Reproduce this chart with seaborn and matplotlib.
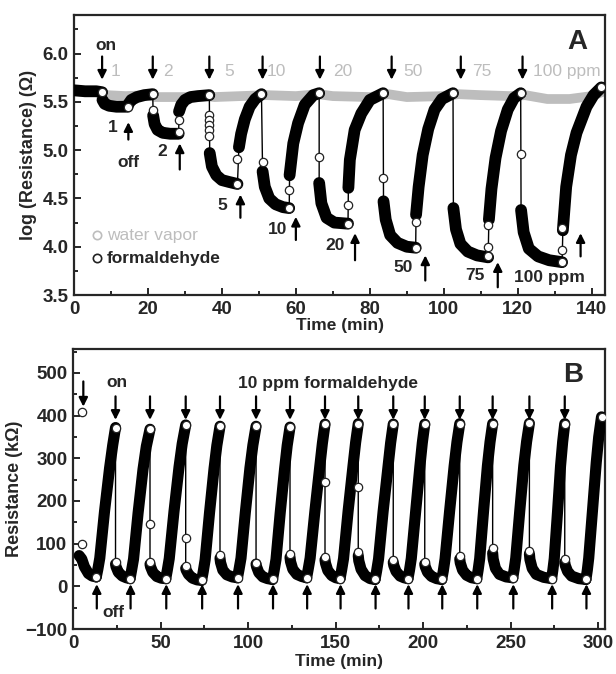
import matplotlib
matplotlib.use("Agg")
import matplotlib.pyplot as plt
import seaborn as sns
from matplotlib.ticker import MultipleLocator

# ---------------- Panel A data (log resistance vs time) ----------------
A_seg_t = [
    [0, 3, 6, 7.6],
    [7.7, 8.3, 9.5, 11.5, 14.5],
    [14.6, 15.5, 17, 19, 21.3],
    [21.4, 21.8, 22.6, 24, 26, 28.3],
    [28.4, 29, 30, 31.5, 33.5, 36.6],
    [36.7, 37.3, 38.5, 40, 42, 44.2],
    [44.6, 45.2, 46.2, 47.5, 49, 50.7],
    [51.0, 51.6, 52.8, 54.5, 56.5, 58.2],
    [58.3, 59.3, 60.6, 62.4, 64.7, 66.3],
    [66.3, 66.9, 68.3, 70.4, 73.7, 74.1],
    [74.2, 74.6, 75.9, 77.7, 80, 83.6],
    [83.7, 84.3, 85.5, 87.5, 90, 92.4],
    [92.5, 93.2, 94.3, 95.8, 97.5, 99.5, 102.5],
    [102.6, 103.3, 104.5, 106.5, 109, 112],
    [112.2, 112.9, 114, 115.5, 117.3, 119, 120.8],
    [120.9, 121.6, 123, 125.5, 128.5, 132],
    [132.2, 133.1, 134.4, 135.9, 138.6, 140.5, 142.6],
]
A_seg_r = [
    [5.62, 5.61, 5.61, 5.60],
    [5.52, 5.48, 5.46, 5.45, 5.45],
    [5.47, 5.52, 5.55, 5.57, 5.58],
    [5.36, 5.27, 5.21, 5.18, 5.17, 5.17],
    [5.40, 5.47, 5.52, 5.55, 5.56, 5.57],
    [4.97, 4.83, 4.74, 4.69, 4.67, 4.65],
    [5.03, 5.17, 5.32, 5.45, 5.53, 5.58],
    [4.78, 4.62, 4.50, 4.44, 4.41, 4.40],
    [4.74, 5.07, 5.28, 5.47, 5.57, 5.59],
    [4.66, 4.45, 4.30, 4.25, 4.24, 4.24],
    [4.61, 4.90, 5.21, 5.38, 5.52, 5.59],
    [4.47, 4.28, 4.12, 4.04, 4.00, 3.99],
    [4.33, 4.62, 4.95, 5.22, 5.42, 5.53, 5.59],
    [4.40, 4.18, 4.03, 3.95, 3.91, 3.89],
    [4.28, 4.60, 4.92, 5.20, 5.42, 5.54, 5.59],
    [4.38, 4.15, 3.98, 3.90, 3.86, 3.84],
    [4.17, 4.62, 4.95, 5.18, 5.45, 5.57, 5.65],
]
A_mark_t = [7.6, 14.5, 21.3, 21.3, 28.3, 28.3, 36.6, 36.6, 36.6, 36.6, 36.6, 36.6,
            44.2, 44.2, 50.7, 51.0, 58.2, 58.2, 66.3, 66.3, 74.1, 74.1, 83.6, 83.6,
            92.4, 92.4, 102.5, 112, 112, 112, 120.8, 120.8, 132, 132, 132, 142.6]
A_mark_r = [5.60, 5.45, 5.58, 5.42, 5.19, 5.31, 5.57, 5.36, 5.31, 5.26, 5.21, 5.15,
            4.65, 4.91, 5.58, 4.88, 4.40, 4.59, 5.59, 4.93, 4.24, 4.43, 5.59, 4.71,
            3.99, 4.26, 5.59, 3.90, 4.00, 4.23, 5.59, 4.96, 3.84, 3.97, 4.19, 5.65]
A_water_t = [0, 7, 9, 14, 20, 22, 30, 36, 38, 45, 52, 60, 66, 70, 80, 85, 90, 100,
             104, 110, 118, 122, 128, 134, 140, 144]
A_water_r = [5.61, 5.60, 5.57, 5.56, 5.57, 5.55, 5.55, 5.56, 5.55, 5.56, 5.57, 5.56,
             5.58, 5.56, 5.55, 5.58, 5.55, 5.56, 5.58, 5.57, 5.56, 5.57, 5.53, 5.53,
             5.56, 5.62]
A_on_t = [7.6, 21.3, 36.6, 51.0, 66.5, 85.9, 104.6, 121.3]
A_off_t = [14.7, 28.6, 45.0, 60.0, 76.0, 95.0, 114.6, 137.0]
A_off_tip = [5.29, 5.07, 4.54, 4.31, 4.14, 3.91, 3.84, 4.14]
A_off_tail = [5.11, 4.80, 4.30, 4.07, 3.86, 3.65, 3.58, 3.90]
A_conc = ["1", "2", "5", "10", "20", "50", "75", "100 ppm"]
A_conc_t = [10.6, 24.0, 40.0, 55.0, 70.5, 89.0, 108.4, 128.6]
A_conc_r = [5.23, 4.99, 4.43, 4.18, 4.01, 3.78, 3.70, 3.68]
A_gray_t = [11.1, 25.5, 42.0, 54.8, 72.8, 91.7, 110.2, 133.2]

# ---------------- Panel B data (resistance vs time, 10 ppm) ----------------
B_seg_t = [
    [3.5, 5.0, 6.5, 8.8, 11.0, 13.3],
    [13.3, 14.2, 15.3, 18.0, 20.9, 22.7, 24.3],
    [24.3, 24.6, 25.9, 28.2, 30.5, 32.6],
    [32.6, 33.5, 34.6, 37.2, 40.0, 41.9, 44.0],
    [44.0, 44.3, 45.6, 47.9, 50.5, 53.0],
    [53.0, 53.9, 55.0, 57.7, 60.6, 62.4, 64.4],
    [64.4, 64.7, 66.0, 68.3, 71.0, 73.5],
    [73.5, 74.4, 75.5, 78.0, 80.6, 82.2, 84.0],
    [84.0, 84.3, 85.6, 87.9, 91.0, 94.0],
    [94.0, 94.9, 96.0, 98.5, 101.1, 102.8, 104.6],
    [104.6, 104.9, 106.2, 108.5, 111.2, 114.0],
    [114.0, 114.9, 116.0, 118.4, 120.9, 122.4, 124.0],
    [124.0, 124.3, 125.6, 127.9, 130.7, 133.5],
    [133.5, 134.4, 135.5, 138.2, 141.0, 142.5, 144.0],
    [144.0, 144.3, 145.6, 147.9, 150.2, 152.6],
    [152.6, 153.5, 154.6, 157.2, 160.0, 161.5, 163.0],
    [163.0, 163.3, 164.6, 166.9, 169.8, 172.6],
    [172.6, 173.5, 174.6, 177.2, 180.0, 181.5, 183.0],
    [183.0, 183.3, 184.6, 186.9, 189.2, 191.4],
    [191.4, 192.3, 193.3, 195.8, 198.2, 199.6, 201.0],
    [201.0, 201.3, 202.6, 204.9, 207.8, 210.7],
    [210.7, 211.6, 212.6, 215.2, 217.8, 219.4, 221.0],
    [221.0, 221.3, 222.6, 224.9, 227.8, 230.7],
    [230.7, 231.5, 232.4, 234.6, 236.8, 238.3, 239.8],
    [239.8, 240.1, 241.4, 243.7, 247.5, 251.3],
    [251.3, 252.1, 253.0, 255.3, 257.6, 259.2, 260.8],
    [260.8, 261.1, 262.4, 264.7, 269.0, 273.5],
    [273.5, 274.2, 275.0, 276.9, 278.6, 279.8, 281.0],
    [281.0, 281.3, 282.6, 284.9, 289.0, 293.1],
    [293.1, 293.9, 294.7, 296.9, 299.0, 300.4, 302.0],
]
B_seg_r = [
    [72, 64, 46, 30, 24, 22],
    [22, 40, 66, 175, 277, 331, 372],
    [52, 46, 33, 24, 20, 18],
    [18, 38, 64, 172, 274, 328, 368],
    [52, 46, 33, 23, 19, 18],
    [18, 38, 65, 175, 280, 334, 378],
    [42, 38, 28, 19, 15, 14],
    [14, 34, 62, 172, 276, 330, 375],
    [66, 56, 38, 27, 22, 20],
    [20, 40, 66, 174, 277, 331, 375],
    [52, 46, 32, 22, 18, 16],
    [16, 36, 63, 172, 275, 330, 373],
    [68, 58, 40, 28, 23, 20],
    [20, 40, 66, 175, 280, 335, 380],
    [62, 54, 37, 25, 20, 18],
    [18, 38, 65, 176, 282, 337, 381],
    [72, 60, 40, 25, 18, 16],
    [16, 36, 64, 175, 280, 336, 380],
    [56, 49, 35, 24, 20, 18],
    [18, 38, 65, 175, 280, 336, 380],
    [52, 46, 33, 23, 18, 16],
    [16, 36, 64, 176, 282, 338, 381],
    [64, 55, 38, 26, 20, 18],
    [18, 38, 65, 176, 282, 338, 381],
    [78, 64, 42, 28, 22, 20],
    [20, 40, 66, 177, 283, 339, 382],
    [76, 63, 42, 28, 21, 18],
    [18, 38, 65, 176, 282, 338, 381],
    [56, 49, 35, 24, 18, 16],
    [16, 38, 66, 180, 290, 350, 397],
]
B_peak_t = [24.3, 44.0, 64.4, 84.0, 104.6, 124.0, 144.0, 163.0, 183.0, 201.0,
            221.0, 239.8, 260.8, 281.0]
B_peak_r = [372, 368, 378, 375, 375, 373, 380, 381, 380, 380, 381, 381, 382, 381]
B_drop_r = [57, 57, 47, 73, 55, 75, 69, 80, 62, 57, 72, 89, 83, 63]
B_trough_t = [13.3, 32.6, 53.0, 73.5, 94.0, 114.0, 133.5, 152.6, 172.6, 191.4,
              210.7, 230.7, 251.3, 273.5, 293.1]
B_trough_r = [22, 18, 18, 14, 20, 16, 20, 18, 16, 18, 16, 18, 20, 18, 16]
B_extra_t = [5.0, 5.0, 44.0, 64.4, 144.0, 163.0, 302.0]
B_extra_r = [409, 100, 145, 113, 244, 233, 397]

# ---------------- styling ----------------
sns.set_style("ticks")
plt.rcParams['font.family'] = ['Liberation Sans', 'DejaVu Sans']
plt.rcParams['font.weight'] = 'bold'
plt.rcParams['axes.labelweight'] = 'bold'
plt.rcParams['axes.linewidth'] = 1.6

fig = plt.figure(figsize=(6.16, 6.74), dpi=100)
axA = fig.add_axes([74/616, 1-295/674, (605-74)/616, (295-15)/674])
axB = fig.add_axes([73/616, 1-629/674, (605-73)/616, (629-349)/674])

GRAY = '#bdbdbd'


def draw_trace(ax, seg_t, seg_r, lw):
    all_t = [v for s in seg_t for v in s]
    all_r = [v for s in seg_r for v in s]
    sns.lineplot(x=all_t, y=all_r, sort=False, estimator=None, color='black',
                 lw=1.0, ax=ax, legend=False, zorder=3)
    for t, r in zip(seg_t, seg_r):
        sns.lineplot(x=t, y=r, sort=False, estimator=None, color='black', lw=lw,
                     solid_capstyle='round', solid_joinstyle='round', ax=ax,
                     legend=False, zorder=4)


def arrow(ax, x, tip, tail):
    ax.annotate('', xy=(x, tip), xytext=(x, tail),
                arrowprops=dict(arrowstyle='-|>', color='black', lw=1.6,
                                mutation_scale=13, shrinkA=0, shrinkB=0),
                zorder=6)

# ---- Panel A ----
sns.lineplot(x=A_water_t, y=A_water_r, sort=False, estimator=None, color=GRAY,
             lw=7, ax=axA, legend=False, zorder=2, solid_capstyle='butt')
draw_trace(axA, A_seg_t, A_seg_r, 8.5)
sns.scatterplot(x=A_mark_t, y=A_mark_r, s=36, color='white', edgecolor='#222222',
                linewidth=0.9, ax=axA, zorder=5, legend=False)
for x in A_on_t:
    arrow(axA, x, 5.73, 5.97)
for x, tp, tl in zip(A_off_t, A_off_tip, A_off_tail):
    arrow(axA, x, tp, tl)
for s, x, y in zip(A_conc, A_conc_t, A_conc_r):
    axA.text(x, y, s, ha='center', va='center', fontsize=12.5, fontweight='bold')
for s, x in zip(A_conc, A_gray_t):
    axA.text(x, 5.81, s, ha='center', va='center', fontsize=12.5,
             fontweight='normal', color=GRAY)
axA.text(8.6, 6.08, 'on', ha='center', va='center', fontsize=12.5, fontweight='bold')
axA.text(14.7, 4.87, 'off', ha='center', va='center', fontsize=12.5, fontweight='bold')
axA.text(136, 6.12, 'A', ha='center', va='center', fontsize=20, fontweight='bold')
axA.scatter([6.1], [4.12], s=36, color='white', edgecolor=GRAY, linewidth=1.2, zorder=5)
axA.scatter([6.1], [3.88], s=36, color='white', edgecolor='#222222', linewidth=1.2, zorder=5)
axA.text(8.8, 4.12, 'water vapor', ha='left', va='center', fontsize=12.5,
         color=GRAY, fontweight='normal')
axA.text(8.8, 3.88, 'formaldehyde', ha='left', va='center', fontsize=12.5,
         fontweight='bold')

axA.set_xlim(0, 143.6)
axA.set_ylim(3.5, 6.4)
axA.xaxis.set_major_locator(MultipleLocator(20))
axA.xaxis.set_minor_locator(MultipleLocator(10))
axA.yaxis.set_major_locator(MultipleLocator(0.5))
axA.yaxis.set_minor_locator(MultipleLocator(0.25))
axA.yaxis.set_major_formatter(matplotlib.ticker.FormatStrFormatter('%.1f'))
axA.set_xlabel('Time (min)', fontsize=12.5, labelpad=0)
axA.set_ylabel('log (Resistance) (Ω)', fontsize=13, labelpad=4)

# ---- Panel B ----
draw_trace(axB, B_seg_t, B_seg_r, 8)
sns.scatterplot(x=B_peak_t + B_peak_t + B_trough_t + B_extra_t,
                y=B_peak_r + B_drop_r + B_trough_r + B_extra_r,
                s=36, color='white', edgecolor='#222222', linewidth=0.9,
                ax=axB, zorder=5, legend=False)
arrow(axB, 5.9, 421, 480)
for x in B_peak_t:
    arrow(axB, x, 390, 445)
for x in B_trough_t:
    arrow(axB, x + 0.3, 5, -52)
axB.text(25, 477, 'on', ha='center', va='center', fontsize=12.5, fontweight='bold')
axB.text(146, 476, '10 ppm formaldehyde', ha='center', va='center', fontsize=12.5,
         fontweight='bold')
axB.text(22.9, -62, 'off', ha='center', va='center', fontsize=12.5, fontweight='bold')
axB.text(286, 495, 'B', ha='center', va='center', fontsize=20, fontweight='bold')

axB.set_xlim(0, 304)
axB.set_ylim(-100, 556)
axB.xaxis.set_major_locator(MultipleLocator(50))
axB.xaxis.set_minor_locator(MultipleLocator(25))
axB.yaxis.set_major_locator(MultipleLocator(100))
axB.yaxis.set_minor_locator(MultipleLocator(50))
axB.set_xlabel('Time (min)', fontsize=12.5, labelpad=2)
axB.set_ylabel('Resistance (kΩ)', fontsize=13, labelpad=2)

for ax in (axA, axB):
    ax.tick_params(which='both', direction='in', top=False, right=False,
                   labelsize=13.5, width=1.4)
    ax.tick_params(which='major', length=5, pad=4)
    ax.tick_params(which='minor', length=3)
    for lab in ax.get_xticklabels() + ax.get_yticklabels():
        lab.set_fontweight('bold')
    for sp in ax.spines.values():
        sp.set_visible(True)
        sp.set_linewidth(1.6)

fig.savefig('out.png', dpi=100)
